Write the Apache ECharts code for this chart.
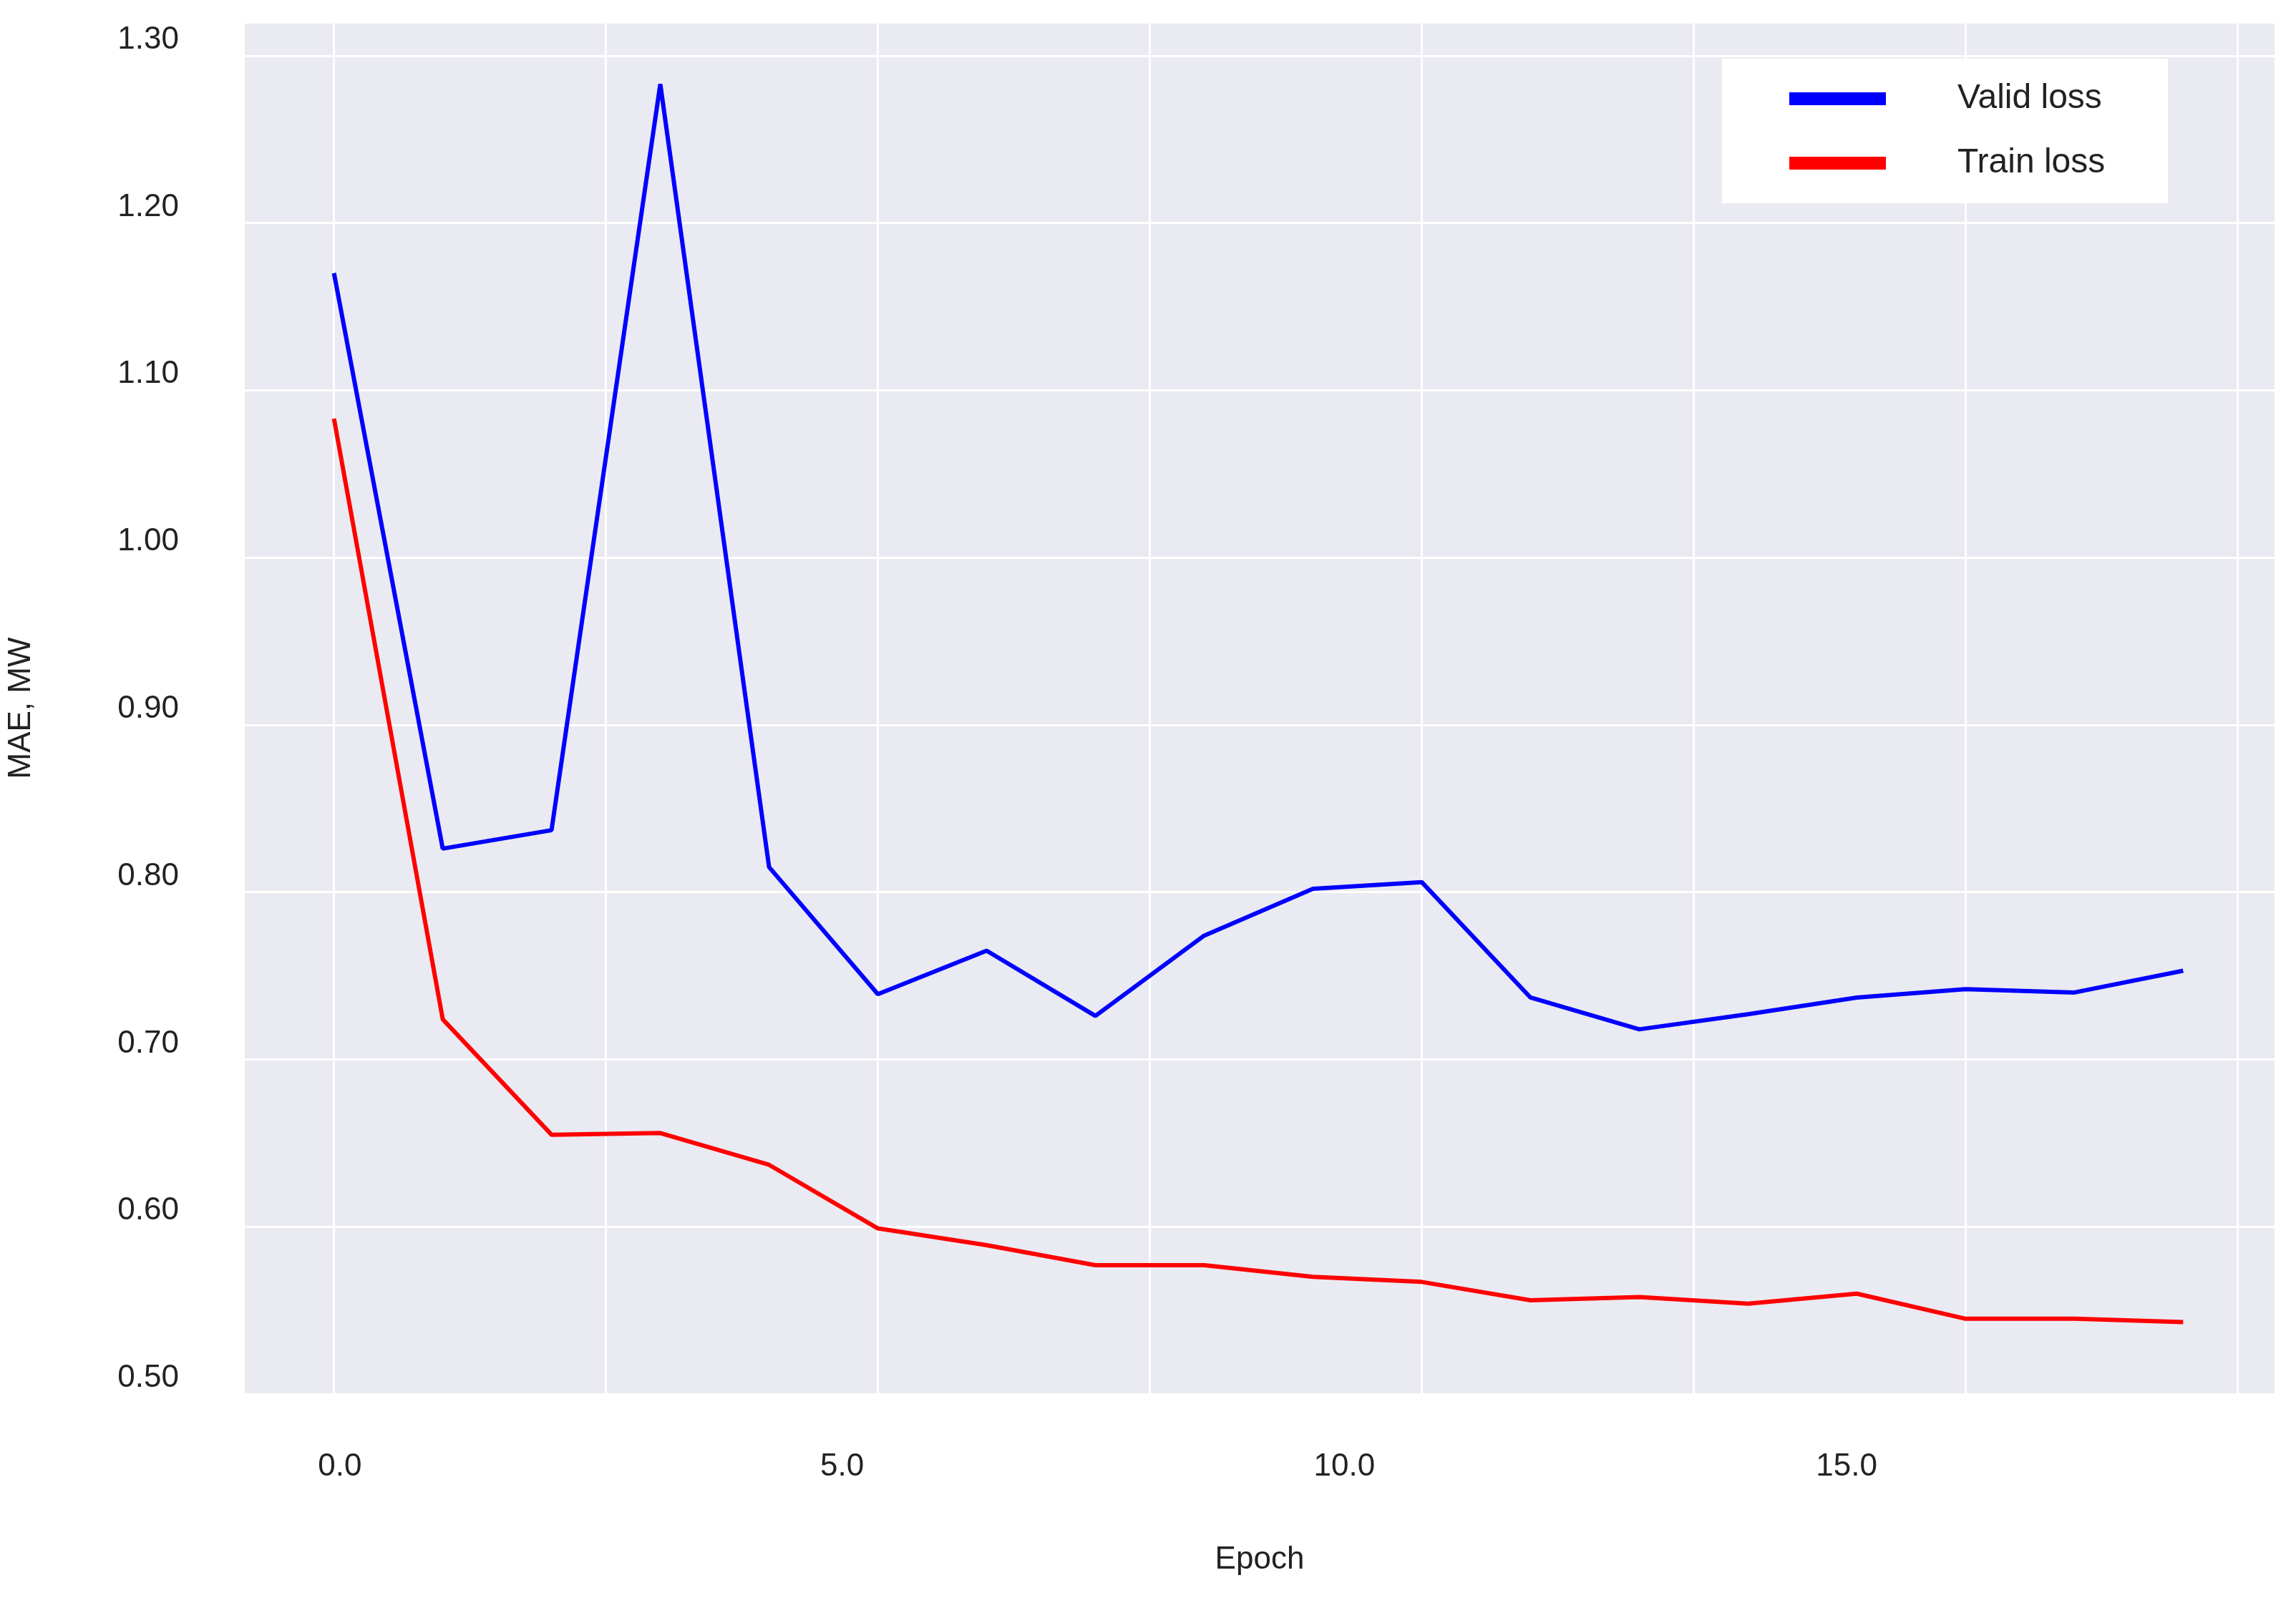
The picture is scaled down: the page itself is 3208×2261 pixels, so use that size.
<!DOCTYPE html>
<html>
<head>
<meta charset="utf-8">
<script src="https://cdn.jsdelivr.net/npm/echarts@6/dist/echarts.min.js"></script>
<style>html,body{margin:0;background:#fff}#main{width:3208px;height:2261px}</style>
</head>
<body>
<div id="main"></div>
<script>
// data
let epochs = [0, 1, 2, 3, 4, 5, 6, 7, 8, 9, 10, 11, 12, 13, 14, 15, 16, 17]
let validLoss = [1.170, 0.826, 0.837, 1.283, 0.815, 0.739, 0.765, 0.726, 0.774, 0.802, 0.806, 0.737, 0.718, 0.727, 0.737, 0.742, 0.740, 0.753]
let trainLoss = [1.083, 0.724, 0.655, 0.656, 0.637, 0.599, 0.589, 0.577, 0.577, 0.570, 0.567, 0.556, 0.558, 0.554, 0.560, 0.545, 0.545, 0.543]
let gridX = [0, 2.5, 5, 7.5, 10, 12.5, 15, 17.5]
let xTickLabels = [0, 5, 10, 15]

let font = '"Liberation Sans Narrow", "Liberation Sans", sans-serif'
let myChart = echarts.init(document.getElementById('main'))

let pair = arr => arr.map((v, i) => [epochs[i], v])

let option = {
  backgroundColor: '#fff',
  grid: {
    left: 338, right: 30, top: 31, bottom: 313,
    show: true, backgroundColor: '#EAEAF2', borderWidth: 0
  },
  legend: {
    orient: 'vertical',
    left: 2406, top: 82,
    width: 643,
    backgroundColor: '#fff',
    padding: [32, 88, 32, 94],
    itemWidth: 135, itemHeight: 18, itemGap: 42,
    icon: 'rect',
    textStyle: { fontFamily: font, fontSize: 48, color: '#222', padding: [0, 0, 0, 95] },
    data: ['Valid loss', 'Train loss']
  },
  xAxis: [
    {
      type: 'value', min: -0.82, max: 17.84,
      axisLine: { show: false },
      axisTick: { show: false, customValues: gridX },
      axisLabel: { show: false },
      splitLine: { show: true, lineStyle: { color: '#fff', width: 3 } }
    },
    {
      type: 'value', min: -0.946, max: 19.26, position: 'bottom',
      name: 'Epoch', nameLocation: 'middle', nameGap: 210,
      nameTextStyle: { fontFamily: font, fontSize: 44, color: '#222' },
      axisLine: { show: false },
      axisTick: { show: false },
      splitLine: { show: false },
      axisLabel: {
        customValues: xTickLabels, margin: 80,
        fontFamily: font, fontSize: 44, color: '#222',
        formatter: v => v.toFixed(1)
      }
    }
  ],
  yAxis: {
    type: 'value', min: 0.5, max: 1.32, interval: 0.1,
    name: 'MAE, MW', nameLocation: 'middle', nameGap: 290,
    nameTextStyle: { fontFamily: font, fontSize: 44, color: '#222' },
    axisLine: { show: false },
    axisTick: { show: false },
    axisLabel: {
      showMaxLabel: false, margin: 92,
      fontFamily: font, fontSize: 44, color: '#222',
      verticalAlign: 'bottom',
      formatter: v => v.toFixed(2)
    },
    splitLine: { show: true, lineStyle: { color: '#fff', width: 3 } }
  },
  series: [
    {
      name: 'Valid loss', type: 'line', xAxisIndex: 0,
      data: pair(validLoss), showSymbol: false,
      itemStyle: { color: '#0000FF' },
      lineStyle: { color: '#0000FF', width: 6 }
    },
    {
      name: 'Train loss', type: 'line', xAxisIndex: 0,
      data: pair(trainLoss), showSymbol: false,
      itemStyle: { color: '#FF0000' },
      lineStyle: { color: '#FF0000', width: 6 }
    }
  ]
}
myChart.setOption(option)
</script>
</body>
</html>
